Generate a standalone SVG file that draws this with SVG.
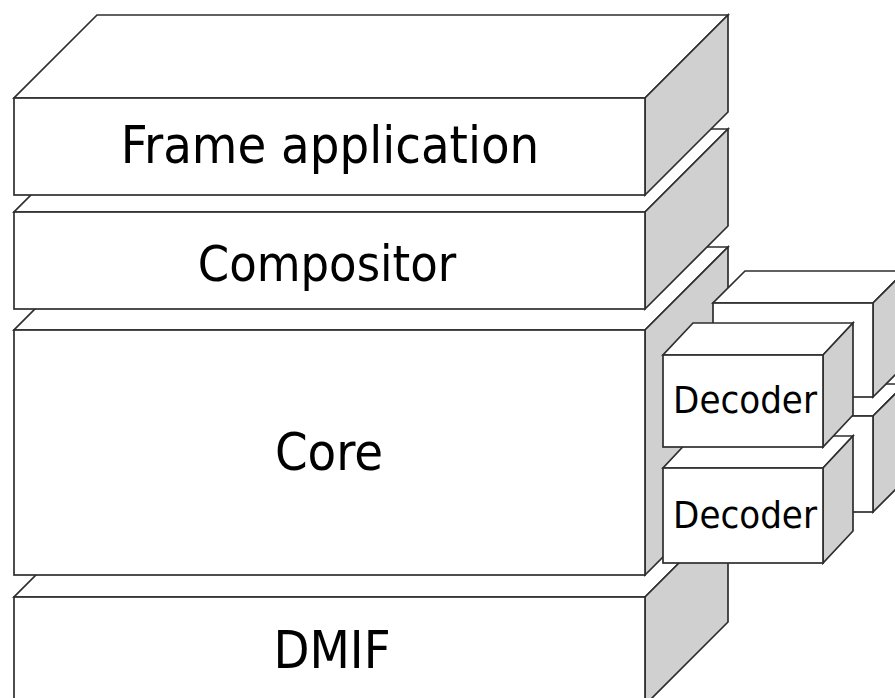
<svg xmlns="http://www.w3.org/2000/svg" width="895" height="698" viewBox="0 0 895 698">
  <style>
    .face { fill: #ffffff; stroke: #2e2e2e; stroke-width: 1.7; stroke-linejoin: miter; }
    .side { fill: #d0d0d0; stroke: #2e2e2e; stroke-width: 1.7; stroke-linejoin: miter; }
    .label { font-family: 'DejaVu Sans Condensed', 'DejaVu Sans', sans-serif; font-stretch: condensed; fill: #000000; text-anchor: middle; }
    .big { font-size: 52px; }
    .mid { font-size: 50px; }
    .small { font-size: 38px; }
  </style>
  <rect width="895" height="698" fill="#ffffff"/>

  <!-- Layer stack, drawn bottom-up so each upper slab hides the top of the one below -->
  <g id="dmif">
    <polygon class="face" points="14,597 645,597 728,514 97,514"/>
    <polygon class="side" points="645,597 728,514 728,622 645,705"/>
    <rect class="face" x="14" y="597" width="631" height="108"/>
    <text class="label big" x="332" y="668">DMIF</text>
  </g>

  <g id="core">
    <polygon class="face" points="14,330 645,330 728,247 97,247"/>
    <polygon class="side" points="645,330 728,247 728,492 645,575"/>
    <rect class="face" x="14" y="330" width="631" height="245"/>
    <text class="label big" x="329" y="470">Core</text>
  </g>

  <g id="compositor">
    <polygon class="face" points="14,212 645,212 728,129 97,129"/>
    <polygon class="side" points="645,212 728,129 728,226 645,309"/>
    <rect class="face" x="14" y="212" width="631" height="97"/>
    <text class="label mid" x="327" y="281">Compositor</text>
  </g>

  <g id="frame-application">
    <polygon class="face" points="14,98 645,98 728,15 97,15"/>
    <polygon class="side" points="645,98 728,15 728,112 645,195"/>
    <rect class="face" x="14" y="98" width="631" height="97"/>
    <text class="label big" x="330" y="163">Frame application</text>
  </g>

  <!-- Decoder blocks beside the core: rear pair first, front pair on top -->
  <g id="decoder-rear-lower">
    <polygon class="face" points="713,416 873,416 905,384 745,384"/>
    <polygon class="side" points="873,416 905,384 905,480 873,512"/>
    <rect class="face" x="713" y="416" width="160" height="96"/>
  </g>

  <g id="decoder-rear-upper">
    <polygon class="face" points="713,303 873,303 905,271 745,271"/>
    <polygon class="side" points="873,303 905,271 905,365 873,397"/>
    <rect class="face" x="713" y="303" width="160" height="94"/>
  </g>

  <g id="decoder-lower">
    <polygon class="face" points="663,468 823,468 853,436 693,436"/>
    <polygon class="side" points="823,468 853,436 853,531 823,563"/>
    <rect class="face" x="663" y="468" width="160" height="95"/>
    <text class="label small" x="745" y="528">Decoder</text>
  </g>

  <g id="decoder-upper">
    <polygon class="face" points="663,355 823,355 853,323 693,323"/>
    <polygon class="side" points="823,355 853,323 853,415 823,447"/>
    <rect class="face" x="663" y="355" width="160" height="92"/>
    <text class="label small" x="745" y="413">Decoder</text>
  </g>

  <g id="connectors"></g>
</svg>
